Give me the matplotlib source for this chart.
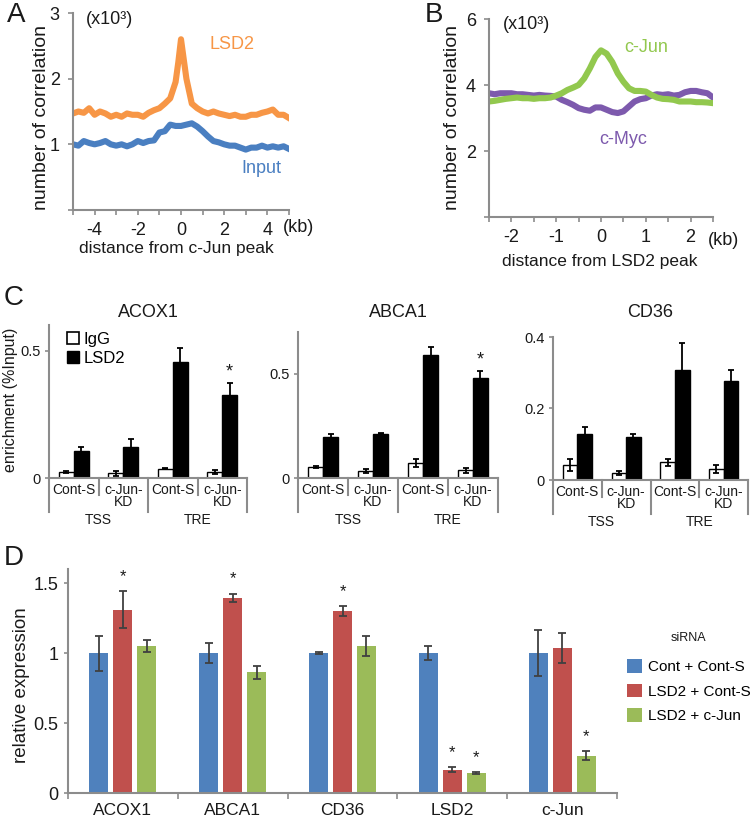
import matplotlib
matplotlib.use('Agg')
import matplotlib.pyplot as plt
from matplotlib.patches import Patch
from matplotlib.lines import Line2D
import numpy as np

plt.rcParams['font.family'] = ['Liberation Sans', 'DejaVu Sans']
plt.rcParams['axes.unicode_minus'] = False

# ---------------- data ----------------
# Panel A (x10^3) vs distance from c-Jun peak (kb)
a_x = [-5, -4.75, -4.5, -4.25, -4, -3.75, -3.5, -3.25, -3, -2.75, -2.5, -2.25, -2,
       -1.75, -1.5, -1.25, -1, -0.75, -0.5, -0.25, -0.125, 0, 0.125, 0.25, 0.5, 0.75,
       1, 1.25, 1.5, 1.75, 2, 2.25, 2.5, 2.75, 3, 3.25, 3.5, 3.75, 4, 4.25, 4.5, 4.75, 5]
a_lsd2 = [1.47, 1.50, 1.48, 1.55, 1.45, 1.50, 1.47, 1.42, 1.45, 1.42, 1.47, 1.45, 1.45,
          1.42, 1.48, 1.52, 1.55, 1.62, 1.70, 1.95, 2.25, 2.60, 2.30, 2.00, 1.62, 1.55,
          1.50, 1.47, 1.50, 1.47, 1.45, 1.43, 1.45, 1.42, 1.42, 1.45, 1.45, 1.48, 1.50,
          1.53, 1.45, 1.45, 1.40]
a_input = [1.00, 0.98, 1.05, 1.02, 1.00, 1.02, 1.05, 1.00, 0.98, 1.00, 0.97, 1.00, 1.05,
           1.02, 1.05, 1.06, 1.18, 1.20, 1.30, 1.28, 1.28, 1.28, 1.29, 1.30, 1.32, 1.27,
           1.20, 1.12, 1.05, 1.03, 1.00, 0.98, 0.98, 0.95, 0.92, 0.95, 0.95, 0.98, 0.95,
           0.97, 0.95, 0.97, 0.93]

# Panel B (x10^3) vs distance from LSD2 peak (kb)
b_x = [-2.5, -2.375, -2.25, -2.125, -2, -1.875, -1.75, -1.625, -1.5, -1.375, -1.25,
       -1.125, -1, -0.875, -0.75, -0.625, -0.5, -0.375, -0.25, -0.125, 0, 0.125, 0.25,
       0.375, 0.5, 0.625, 0.75, 0.875, 1, 1.125, 1.25, 1.375, 1.5, 1.625, 1.75, 1.875,
       2, 2.125, 2.25, 2.375, 2.5]
b_cjun = [3.50, 3.52, 3.55, 3.58, 3.60, 3.62, 3.60, 3.60, 3.58, 3.60, 3.60, 3.62, 3.68,
          3.75, 3.85, 3.92, 4.00, 4.20, 4.50, 4.85, 5.05, 4.95, 4.70, 4.35, 4.10, 3.90,
          3.82, 3.82, 3.80, 3.70, 3.62, 3.58, 3.57, 3.55, 3.50, 3.50, 3.50, 3.48, 3.48,
          3.47, 3.45]
b_cmyc = [3.75, 3.72, 3.75, 3.75, 3.75, 3.72, 3.72, 3.70, 3.68, 3.70, 3.68, 3.67, 3.65,
          3.55, 3.48, 3.40, 3.30, 3.25, 3.22, 3.32, 3.32, 3.25, 3.18, 3.15, 3.20, 3.35,
          3.50, 3.57, 3.60, 3.68, 3.72, 3.70, 3.72, 3.68, 3.70, 3.78, 3.82, 3.82, 3.78,
          3.75, 3.62]

# Panel C: ChIP enrichment (%Input)
c_conditions = ['Cont-S', 'c-Jun-\nKD', 'Cont-S', 'c-Jun-\nKD']
c_regions = ['TSS', 'TRE']
c_genes = ['ACOX1', 'ABCA1', 'CD36']
c_igg = {'ACOX1': [0.023, 0.019, 0.036, 0.022],
         'ABCA1': [0.052, 0.032, 0.071, 0.038],
         'CD36': [0.042, 0.019, 0.050, 0.031]}
c_igg_err = {'ACOX1': [0.005, 0.010, 0.002, 0.008],
             'ABCA1': [0.005, 0.010, 0.020, 0.012],
             'CD36': [0.016, 0.005, 0.010, 0.012]}
c_lsd2 = {'ACOX1': [0.106, 0.122, 0.456, 0.325],
          'ABCA1': [0.197, 0.213, 0.589, 0.478],
          'CD36': [0.130, 0.121, 0.307, 0.277]}
c_lsd2_err = {'ACOX1': [0.014, 0.030, 0.055, 0.048],
              'ABCA1': [0.016, 0.003, 0.040, 0.033],
              'CD36': [0.017, 0.008, 0.076, 0.030]}
c_star = {'ACOX1': [False, False, False, True],
          'ABCA1': [False, False, False, True],
          'CD36': [False, False, False, False]}
c_yticks = {'ACOX1': [0, 0.5], 'ABCA1': [0, 0.5], 'CD36': [0, 0.2, 0.4]}
c_yticklabels = {'ACOX1': ['0', '0.5'], 'ABCA1': ['0', '0.5'], 'CD36': ['0', '0.2', '0.4']}
c_ymax = {'ACOX1': 0.6, 'ABCA1': 0.7, 'CD36': 0.4}

# Panel D: relative expression
d_genes = ['ACOX1', 'ABCA1', 'CD36', 'LSD2', 'c-Jun']
d_series = ['Cont + Cont-S', 'LSD2 + Cont-S', 'LSD2 + c-Jun']
d_values = [[1.00, 1.00, 1.00, 1.00, 1.00],
            [1.31, 1.395, 1.30, 0.167, 1.038],
            [1.05, 0.862, 1.05, 0.143, 0.267]]
d_errors = [[0.125, 0.07, 0.005, 0.048, 0.167],
            [0.13, 0.03, 0.033, 0.016, 0.107],
            [0.04, 0.045, 0.07, 0.005, 0.033]]
d_star = [[False, False, False, False, False],
          [True, True, True, True, False],
          [False, False, False, True, True]]

# ---------------- style ----------------
W, H = 750, 821
fig = plt.figure(figsize=(W / 100, H / 100), dpi=100)
GRAY = '#8C8C8C'
TXT = '#1A1A1A'
ORANGE = '#F79646'
BLUE_A = '#4A7FC1'
GREEN_B = '#92C84E'
PURPLE_B = '#7D5AAD'
D_COLORS = ['#4F81BD', '#C0504D', '#9BBB59']


def ax_px(l, t, r, b):
    ax = fig.add_axes([l / W, 1 - b / H, (r - l) / W, (b - t) / H])
    for s in ['top', 'right']:
        ax.spines[s].set_visible(False)
    for s in ['left', 'bottom']:
        ax.spines[s].set_color(GRAY)
        ax.spines[s].set_linewidth(1.5)
    ax.tick_params(which='both', color=GRAY, width=1.2, labelcolor=TXT)
    return ax


# ---------------- Panel A ----------------
axA = ax_px(73, 13, 289, 210)
axA.plot(a_x, a_lsd2, color=ORANGE, lw=4.4)
axA.plot(a_x, a_input, color=BLUE_A, lw=4.4)
axA.set_xlim(-5, 5)
axA.set_ylim(0, 3)
axA.set_xticks([-4, -2, 0, 2, 4])
axA.set_xticks([-5, -3, -1, 1, 3, 5], minor=True)
axA.set_yticks([1, 2, 3])
axA.set_yticks([0], minor=True)
axA.tick_params(axis='x', which='both', length=3.5, labelsize=13, pad=5)
axA.tick_params(axis='y', which='both', length=3.5, labelsize=13, pad=6)
axA.text(0.06, 0.965, '(x10³)', transform=axA.transAxes, fontsize=13, va='center', ha='left', color=TXT)
axA.text(0.735, 0.838, 'LSD2', transform=axA.transAxes, fontsize=13, color=ORANGE, ha='center', va='center')
axA.text(0.87, 0.213, 'Input', transform=axA.transAxes, fontsize=13, color=BLUE_A, ha='center', va='center')
axA.text(1.045, -0.09, '(kb)', transform=axA.transAxes, fontsize=13, color=TXT, ha='center', va='center')
axA.text(0.48, -0.193, 'distance from c-Jun peak', transform=axA.transAxes, fontsize=12.5,
         color=TXT, ha='center', va='center')
axA.text(-0.148, 0.47, 'number of correlation', transform=axA.transAxes, fontsize=14,
         color=TXT, ha='center', va='center', rotation=90)
fig.text(16 / W, 1 - 15 / H, 'A', fontsize=20, ha='center', va='center', color=TXT)

# ---------------- Panel B ----------------
axB = ax_px(489, 19, 713, 217)
axB.plot(b_x, b_cmyc, color=PURPLE_B, lw=4.4)
axB.plot(b_x, b_cjun, color=GREEN_B, lw=4.4)
axB.set_xlim(-2.5, 2.5)
axB.set_ylim(0, 6)
axB.set_xticks([-2, -1, 0, 1, 2])
axB.set_xticks([-2.5, -1.5, -0.5, 0.5, 1.5, 2.5], minor=True)
axB.set_yticks([2, 4, 6])
axB.set_yticks([0], minor=True)
axB.tick_params(axis='x', which='both', length=3.5, labelsize=13, pad=5)
axB.tick_params(axis='y', which='both', length=3.5, labelsize=13, pad=6)
axB.text(0.06, 0.97, '(x10³)', transform=axB.transAxes, fontsize=13, va='center', ha='left', color=TXT)
axB.text(0.70, 0.854, 'c-Jun', transform=axB.transAxes, fontsize=13, color=GREEN_B, ha='center', va='center')
axB.text(0.60, 0.39, 'c-Myc', transform=axB.transAxes, fontsize=13, color=PURPLE_B, ha='center', va='center')
axB.text(1.045, -0.12, '(kb)', transform=axB.transAxes, fontsize=13, color=TXT, ha='center', va='center')
axB.text(0.496, -0.227, 'distance from LSD2 peak', transform=axB.transAxes, fontsize=12.5,
         color=TXT, ha='center', va='center')
axB.text(-0.165, 0.5, 'number of correlation', transform=axB.transAxes, fontsize=14,
         color=TXT, ha='center', va='center', rotation=90)
fig.text(434 / W, 1 - 15 / H, 'B', fontsize=20, ha='center', va='center', color=TXT)

# ---------------- Panel C ----------------
c_boxes = {'ACOX1': (49, 325, 247, 478), 'ABCA1': (298, 332, 498, 478), 'CD36': (553, 337, 748, 480)}
for gi, gene in enumerate(c_genes):
    l, t, r, b = c_boxes[gene]
    ax = ax_px(l, t, r, b)
    hpx = b - t
    x = np.arange(len(c_conditions))
    ekw = dict(ecolor='black', capsize=2.2, elinewidth=1.3, capthick=1.3)
    ax.bar(x - 0.15, c_igg[gene], 0.3, yerr=c_igg_err[gene], color='white',
           edgecolor='black', linewidth=1.0, error_kw=ekw)
    ax.bar(x + 0.15, c_lsd2[gene], 0.3, yerr=c_lsd2_err[gene], color='black',
           edgecolor='black', linewidth=1.0, error_kw=ekw)
    for i, s in enumerate(c_star[gene]):
        if s:
            ax.annotate('*', (x[i] + 0.15, c_lsd2[gene][i] + c_lsd2_err[gene][i]),
                        xytext=(0, 2), textcoords='offset points', ha='center', va='bottom',
                        fontsize=13, color=TXT)
    ax.set_xlim(-0.5, len(c_conditions) - 0.5)
    ax.set_ylim(0, c_ymax[gene])
    ax.set_xticks([])
    ax.set_yticks(c_yticks[gene])
    ax.set_yticklabels(c_yticklabels[gene])
    ax.tick_params(axis='y', length=3, labelsize=10.5, pad=3)
    tr = ax.get_xaxis_transform()
    # multi-level category table under the axis
    for xv, depth in [(-0.5, 34), (0.5, 17), (1.5, 34), (2.5, 17), (3.5, 34)]:
        ax.add_line(Line2D([xv, xv], [0, -depth / hpx], transform=tr, color=GRAY,
                           lw=1.5, clip_on=False))
    for i, cond in enumerate(c_conditions):
        nl = cond.count('\n')
        ax.text(i, -(12 + 6 * nl) / hpx, cond, transform=tr, ha='center', va='center',
                fontsize=10, color=TXT, linespacing=0.85)
    for k, reg in enumerate(c_regions):
        ax.text(0.5 + 2 * k, -42 / hpx, reg, transform=tr, ha='center', va='center',
                fontsize=10, color=TXT)
    fig.text(((l + r) / 2) / W, 1 - 312 / H, gene, fontsize=13, ha='center', va='center', color=TXT)
    if gi == 0:
        handles = [Patch(facecolor='white', edgecolor='black', linewidth=1.2),
                   Patch(facecolor='black', edgecolor='black')]
        ax.legend(handles, ['IgG', 'LSD2'], loc='upper left', bbox_to_anchor=(0.04, 1.02),
                  frameon=False, fontsize=12, handlelength=0.75, handleheight=0.75,
                  handletextpad=0.25, labelspacing=0.25, borderaxespad=0.2)

fig.text(11 / W, 1 - 400 / H, 'enrichment (%Input)', fontsize=11.5, rotation=90,
         ha='center', va='center', color=TXT)
fig.text(14 / W, 1 - 298 / H, 'C', fontsize=20, ha='center', va='center', color=TXT)

# ---------------- Panel D ----------------
axD = ax_px(68, 569, 617, 793)
xd = np.arange(len(d_genes))
offs = [-0.218, 0.0, 0.218]
for si in range(len(d_series)):
    axD.bar(xd + offs[si], d_values[si], 0.173, yerr=d_errors[si], color=D_COLORS[si],
            label=d_series[si],
            error_kw=dict(ecolor='#404040', capsize=3, elinewidth=1.3, capthick=1.3))
    for gi in range(len(d_genes)):
        if d_star[si][gi]:
            axD.annotate('*', (xd[gi] + offs[si], d_values[si][gi] + d_errors[si][gi]),
                         xytext=(0, 5), textcoords='offset points', ha='center', va='bottom',
                         fontsize=12, color=TXT)
axD.set_xlim(-0.5, len(d_genes) - 0.5)
axD.set_ylim(0, 1.6)
axD.set_xticks(xd)
axD.set_xticklabels(d_genes)
axD.set_xticks(np.arange(-0.5, len(d_genes)), minor=True)
axD.tick_params(axis='x', which='major', length=0, labelsize=12.5, pad=7)
axD.tick_params(axis='x', which='minor', length=4)
axD.set_yticks([0, 0.5, 1, 1.5])
axD.set_yticklabels(['0', '0.5', '1', '1.5'])
axD.tick_params(axis='y', length=3, labelsize=13, pad=4)
axD.text(-0.084, 0.48, 'relative expression', transform=axD.transAxes, fontsize=13.5,
         rotation=90, ha='center', va='center', color=TXT)
fig.text(14 / W, 1 - 558 / H, 'D', fontsize=20, ha='center', va='center', color=TXT)

dh = [Patch(facecolor=c) for c in D_COLORS]
fig.legend(dh, d_series, loc='upper left', bbox_to_anchor=(627 / W, 1 - 659 / H),
           frameon=False, fontsize=11, handlelength=1.0, handleheight=1.0,
           handletextpad=0.35, labelspacing=0.62, borderaxespad=0, borderpad=0)
fig.text(688 / W, 1 - 638 / H, 'siRNA', fontsize=9, ha='center', va='center', color=TXT)

fig.savefig('out.png', dpi=100)
